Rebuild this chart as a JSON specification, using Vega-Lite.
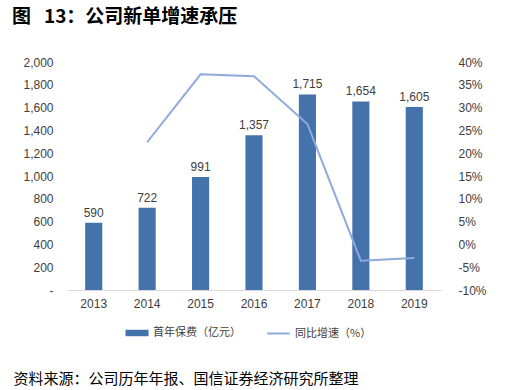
{
  "$schema": "https://vega.github.io/schema/vega-lite/v6.json",
  "autosize": {"type": "none"},
  "width": 374,
  "height": 228,
  "padding": {"left": 67, "top": 62, "right": 81, "bottom": 100},
  "background": "white",
  "config": {
    "view": {"stroke": null},
    "font": "Liberation Sans"
  },
  "title": {
    "text": "图\u00a0\u00a0\u00a013：公司新单增速承压",
    "anchor": "start",
    "frame": "group",
    "dx": -55,
    "dy": -25,
    "fontSize": 19,
    "fontWeight": "bold",
    "font": "Noto Sans CJK SC",
    "color": "#000000"
  },
  "data": {
    "values": [
      {"year": "2013", "premium": 590, "growth": null},
      {"year": "2014", "premium": 722, "growth": 22.4},
      {"year": "2015", "premium": 991, "growth": 37.3},
      {"year": "2016", "premium": 1357, "growth": 36.9},
      {"year": "2017", "premium": 1715, "growth": 26.4},
      {"year": "2018", "premium": 1654, "growth": -3.6},
      {"year": "2019", "premium": 1605, "growth": -3.0}
    ]
  },
  "encoding": {
    "x": {
      "field": "year",
      "type": "ordinal",
      "scale": {"paddingInner": 0.68, "paddingOuter": 0.34},
      "axis": {
        "labelAngle": 0,
        "labelFontSize": 12,
        "labelColor": "#404040",
        "labelPadding": 8,
        "ticks": false,
        "domainColor": "#d9d9d9",
        "title": "资料来源：公司历年年报、国信证券经济研究所整理",
        "titleFont": "Noto Sans CJK SC",
        "titleFontSize": 15,
        "titleFontWeight": "normal",
        "titleColor": "#000000",
        "titleAnchor": "start",
        "titleAlign": "left",
        "titleX": -54,
        "titleY": 88,
        "titleBaseline": "middle"
      }
    }
  },
  "layer": [
    {
      "encoding": {
        "y": {
          "field": "premium",
          "type": "quantitative",
          "scale": {"domain": [0, 2000]},
          "axis": {
            "values": [0, 200, 400, 600, 800, 1000, 1200, 1400, 1600, 1800, 2000],
            "labelExpr": "datum.value == 0 ? '-' : format(datum.value, ',')",
            "labelFontSize": 12,
            "labelColor": "#404040",
            "labelPadding": 14,
            "ticks": false,
            "domain": false,
            "grid": false,
            "title": null
          }
        }
      },
      "layer": [
        {
          "mark": {"type": "bar", "color": "#4472AA"},
          "encoding": {
            "fill": {
              "datum": "首年保费（亿元）",
              "scale": {"range": ["#4472AA"]},
              "legend": {
                "orient": "none",
                "legendX": 58,
                "legendY": 259,
                "title": null,
                "symbolType": "M-1,-0.28H1V0.28H-1Z",
                "symbolSize": 530,
                "symbolStrokeWidth": 0,
                "labelFont": "Noto Sans CJK SC",
                "labelFontSize": 11,
                "labelColor": "#404040",
                "labelOffset": 4
              }
            }
          }
        },
        {
          "mark": {"type": "text", "dy": -10, "fontSize": 12, "color": "#404040"},
          "encoding": {
            "text": {"field": "premium", "type": "quantitative", "format": ","}
          }
        }
      ]
    },
    {
      "mark": {"type": "line", "strokeWidth": 2},
      "encoding": {
        "y": {
          "field": "growth",
          "type": "quantitative",
          "scale": {"domain": [-10, 40]},
          "axis": {
            "orient": "right",
            "values": [-10, -5, 0, 5, 10, 15, 20, 25, 30, 35, 40],
            "labelExpr": "datum.value + '%'",
            "labelFontSize": 12,
            "labelColor": "#404040",
            "labelPadding": 17,
            "ticks": false,
            "domain": false,
            "grid": false,
            "title": null
          }
        },
        "stroke": {
          "datum": "同比增速（%）",
          "scale": {"range": ["#8EA9DB"]},
          "legend": {
            "orient": "none",
            "legendX": 199,
            "legendY": 259,
            "title": null,
            "symbolType": "stroke",
            "symbolSize": 500,
            "symbolStrokeWidth": 2,
            "labelFont": "Noto Sans CJK SC",
            "labelFontSize": 11,
            "labelColor": "#404040",
            "labelOffset": 4
          }
        }
      }
    }
  ],
  "resolve": {"scale": {"y": "independent", "fill": "independent", "stroke": "independent"}}
}
